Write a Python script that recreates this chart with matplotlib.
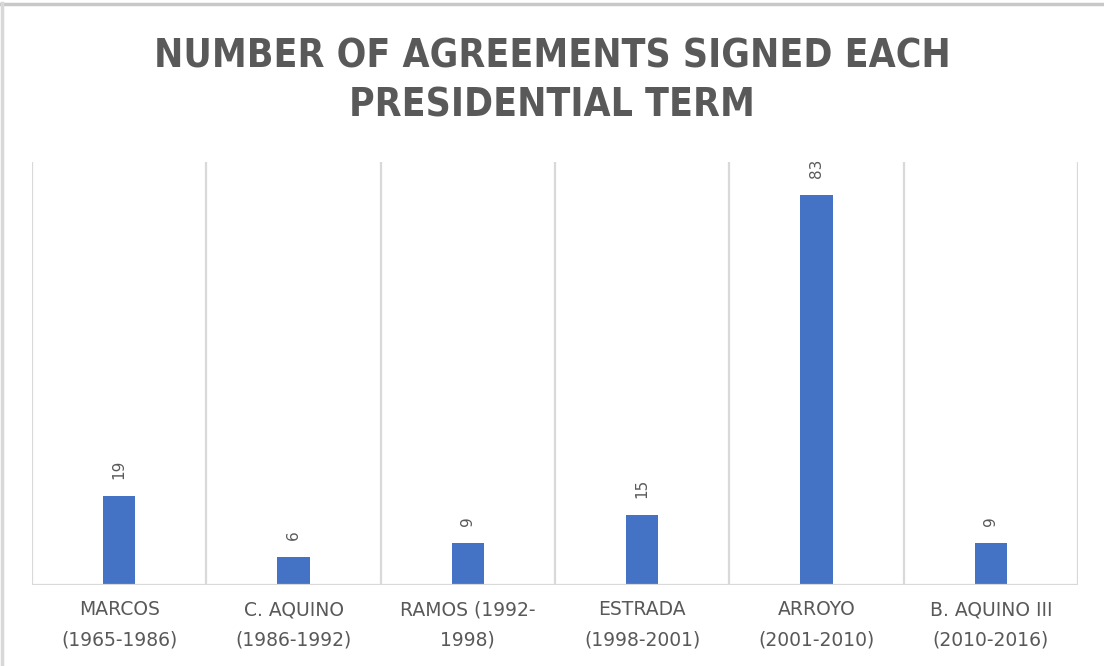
# Number of agreements signed each presidential term - bar chart

import numpy as np
import matplotlib.pyplot as plt
from matplotlib.lines import Line2D

# Daten
presidents = ['MARCOS\n(1965-1986)', 'C. AQUINO\n(1986-1992)', 'RAMOS (1992-\n1998)',
              'ESTRADA\n(1998-2001)', 'ARROYO\n(2001-2010)', 'B. AQUINO III\n(2010-2016)']
agreements = [19, 6, 9, 15, 83, 9]

title = 'NUMBER OF AGREEMENTS SIGNED EACH\nPRESIDENTIAL TERM'

text_gray = '#595959'
grid_gray = '#d9d9d9'
bar_blue = '#4472c4'

fig = plt.figure(figsize=(11.04, 6.66), dpi=100)
ax = fig.add_axes([0.029, 0.1216, 0.9475, 0.6352])

x = np.arange(len(presidents))
ax.bar(x, agreements, width=0.185, color=bar_blue, zorder=3)

# data labels, rotated
for xi, v in zip(x, agreements):
    ax.annotate(str(v), (xi, v), xytext=(0, 12), textcoords='offset points',
                rotation=90, ha='center', va='bottom', fontsize=11, color=text_gray)

ax.set_xlim(-0.5, len(presidents) - 0.5)
ax.set_ylim(0, 90)

# category separators
for b in np.arange(-0.5, len(presidents), 1.0):
    ax.axvline(b, color=grid_gray, lw=1.6, zorder=1)
ax.axhline(0, color=grid_gray, lw=1.6, zorder=4)

ax.set_xticks(x)
ax.set_xticklabels(presidents, fontsize=13.5, color=text_gray, linespacing=1.75)
ax.tick_params(axis='x', length=0, pad=11)
ax.set_yticks([])
for s in ax.spines.values():
    s.set_visible(False)

fig.text(0.5, 0.878, title, ha='center', va='center', fontsize=28, fontweight='bold',
         fontstretch='condensed', color=text_gray, linespacing=1.38, family='DejaVu Sans')

# outer frame (top and left)
fig.add_artist(Line2D([0, 1], [0.9940, 0.9940], transform=fig.transFigure, color='#c8c8c8', lw=2.5))
fig.add_artist(Line2D([0.0018, 0.0018], [0, 0.995], transform=fig.transFigure, color='#d8d8d8', lw=2.5))

plt.savefig('out.png', dpi=100)
